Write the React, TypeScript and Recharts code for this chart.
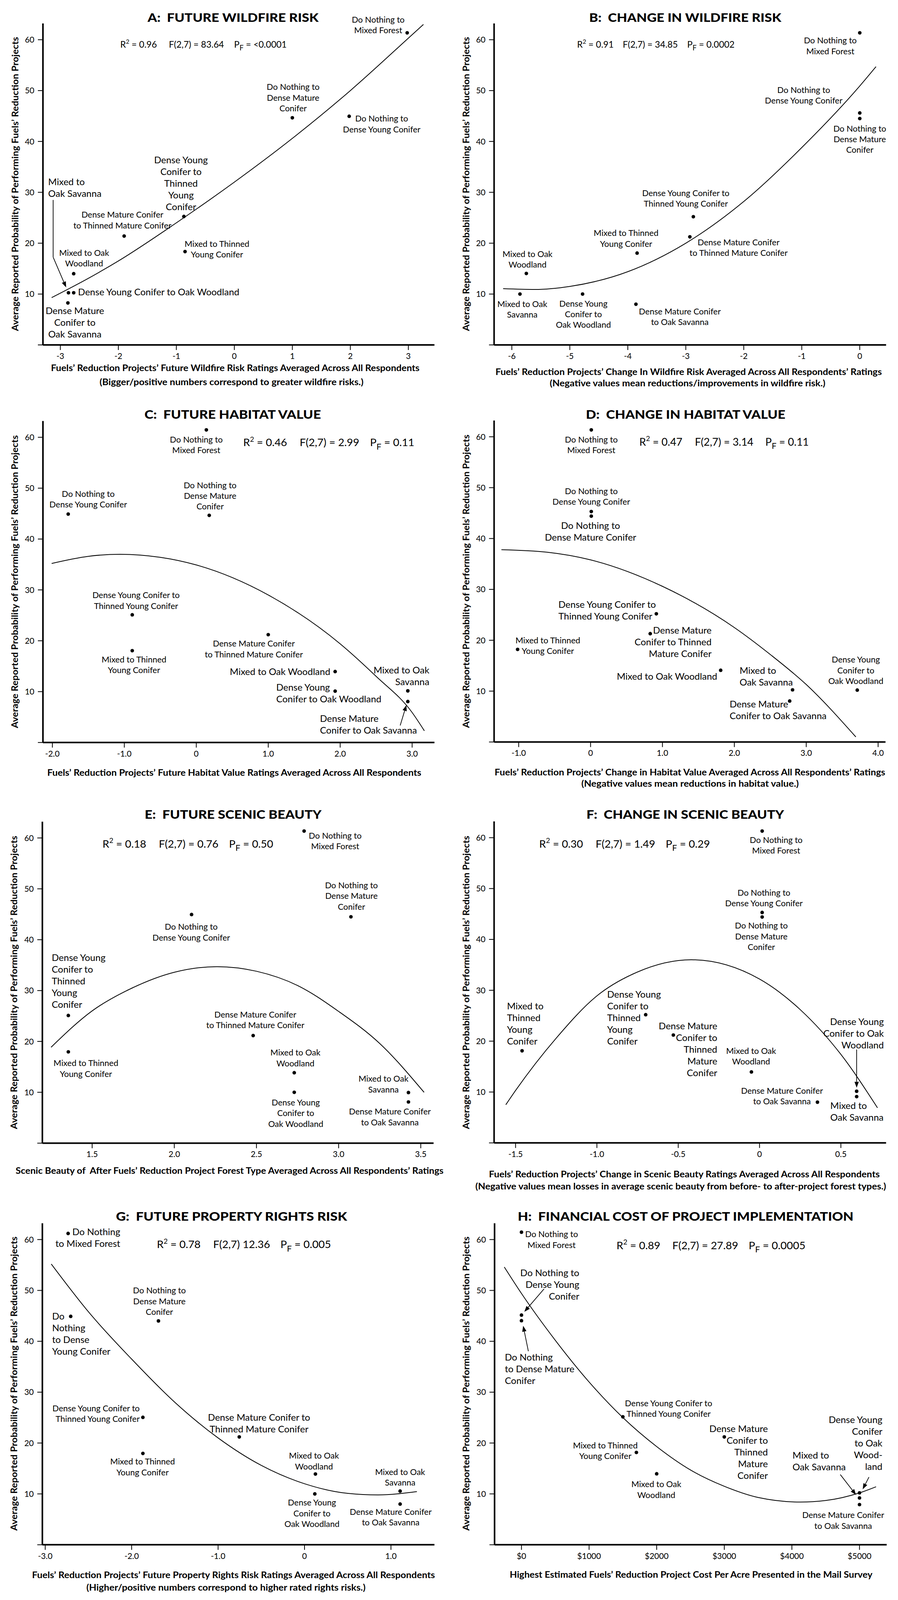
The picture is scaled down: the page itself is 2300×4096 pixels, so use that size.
import React from 'react';
import { ComposedChart, XAxis, YAxis, Scatter, Line, ReferenceLine } from 'recharts';

const FONT = 'Lato, "Open Sans", "DejaVu Sans", sans-serif';

const projects = [
  'Do Nothing to Mixed Forest',
  'Do Nothing to Dense Mature Conifer',
  'Do Nothing to Dense Young Conifer',
  'Dense Young Conifer to Thinned Young Conifer',
  'Dense Mature Conifer to Thinned Mature Conifer',
  'Mixed to Thinned Young Conifer',
  'Mixed to Oak Woodland',
  'Mixed to Oak Savanna',
  'Dense Young Conifer to Oak Woodland',
  'Dense Mature Conifer to Oak Savanna',
];

const yTicks = [0, 10, 20, 30, 40, 50, 60];
const yTickLabels = ['', '10', '20', '30', '40', '50', '60'];
const yLabel = 'Average Reported Probability of Performing Fuels\u2019 Reduction Projects';

// A: Future wildfire risk
const aX = [2.98, 1.0, 1.98, -0.87, -1.9, -0.85, -2.77, -2.86, -2.77, -2.87];
const aY = [61.35, 44.65, 44.95, 25.25, 21.4, 18.35, 14.0, 10.25, 10.25, 8.25];
const aCurveX = [-3.15, -2.5, -2, -1, 0, 1, 2, 3, 3.26];
const aCurveY = [9.3, 13.2, 16.5, 24, 32, 40.6, 50, 60.3, 63];
const aTicks = [-3, -2, -1, 0, 1, 2, 3];
const aTickLabels = ['-3', '-2', '-1', '0', '1', '2', '3'];

// B: Change in wildfire risk
const bX = [0, 0, 0, -2.87, -2.93, -3.84, -5.75, -5.86, -4.78, -3.86];
const bY = [61.35, 44.5, 45.6, 25.2, 21.25, 18.05, 14.05, 10.0, 10.0, 8.0];
const bCurveX = [-6.15, -5.6, -5, -4, -3, -2, -1, 0, 0.28];
const bCurveY = [11.05, 10.9, 11.5, 14.4, 20, 28.2, 38.8, 50.9, 54.7];
const bTicks = [-6, -5, -4, -3, -2, -1, 0];
const bTickLabels = ['-6', '-5', '-4', '-3', '-2', '-1', '0'];

// C: Future habitat value
const cX = [0.14, 0.18, -1.78, -0.89, 1.0, -0.89, 1.93, 2.94, 1.93, 2.94];
const cY = [61.45, 44.65, 44.9, 25.1, 21.2, 18.05, 13.95, 10.15, 10.1, 8.05];
const cCurveX = [-2.01, -1.5, -1.06, -0.5, 0, 1, 2, 2.5, 3, 3.17];
const cCurveY = [35.2, 36.6, 37.0, 36.4, 34.9, 29, 19.4, 13, 5.9, 2.3];
const cTicks = [-2, -1, 0, 1, 2, 3];
const cTickLabels = ['-2.0', '-1.0', '0', '1.0', '2.0', '3.0'];

// D: Change in habitat value
const dX = [0.01, 0.01, 0.01, 0.915, 0.83, -1.015, 1.81, 2.81, 3.71, 2.77];
const dY = [61.35, 44.4, 45.3, 25.2, 21.3, 18.2, 14.1, 10.25, 10.2, 8.05];
const dCurveX = [-1.24, -0.6, 0, 1, 2, 2.5, 3, 3.69];
const dCurveY = [37.8, 37.3, 35.8, 30.6, 22.5, 17.2, 11.3, 1.0];
const dTicks = [-1, 0, 1, 2, 3, 4];
const dTickLabels = ['-1.0', '0', '1.0', '2.0', '3.0', '4.0'];

// E: Future scenic beauty
const eX = [2.79, 3.075, 2.105, 1.355, 2.48, 1.355, 2.73, 3.425, 2.73, 3.425];
const eY = [61.35, 44.5, 44.95, 25.1, 21.15, 17.95, 13.85, 9.95, 10.0, 8.1];
const eCurveX = [1.25, 1.5, 1.75, 2.0, 2.26, 2.5, 2.75, 3.0, 3.25, 3.52];
const eCurveY = [18.85, 26, 30.6, 33.6, 34.7, 33.8, 31, 25.9, 19.6, 10.0];
const eTicks = [1.5, 2, 2.5, 3, 3.5];
const eTickLabels = ['1.5', '2.0', '2.5', '3.0', '3.5'];

// F: Change in scenic beauty
const fX = [0.016, 0.016, 0.016, -0.7, -0.53, -1.46, -0.05, 0.597, 0.597, 0.356];
const fY = [61.3, 44.4, 45.3, 25.2, 21.2, 18.1, 13.95, 9.1, 10.15, 8.0];
const fCurveX = [-1.56, -1.5, -1.25, -1.0, -0.75, -0.42, 0, 0.25, 0.5, 0.725];
const fCurveY = [7.5, 10.3, 20.6, 28.9, 33.6, 36.0, 32.2, 26.2, 17.4, 6.9];
const fTicks = [-1.5, -1, -0.5, 0, 0.5];
const fTickLabels = ['-1.5', '-1.0', '-0.5', '0', '0.5'];

// G: Future property rights risk
const gX = [-2.735, -1.69, -2.705, -1.87, -0.755, -1.87, 0.126, 1.106, 0.119, 1.106];
const gY = [61.2, 44.0, 44.9, 25.05, 21.2, 17.95, 13.9, 10.55, 10.0, 8.0];
const gCurveX = [-2.93, -2.5, -2.0, -1.5, -1.0, -0.5, 0, 0.5, 0.85, 1.3];
const gCurveY = [55.2, 45.8, 36.5, 28.0, 21.0, 15.6, 12.0, 10.1, 9.8, 10.45];
const gTicks = [-3, -2, -1, 0, 1];
const gTickLabels = ['-3.0', '-2.0', '-1.0', '0', '1.0'];

// H: Financial cost
const hX = [0, 0, 0, 1500, 3000, 1700, 2000, 5000, 5000, 5000];
const hY = [61.45, 44.05, 45.15, 25.15, 21.2, 18.15, 13.95, 9.2, 10.2, 7.9];
const hCurveX = [-254, 0, 500, 1000, 1500, 2000, 2500, 3000, 3500, 4124, 4500, 5000, 5245];
const hCurveY = [54.6, 49.4, 40.2, 32.0, 25.0, 19.3, 14.7, 11.5, 9.3, 8.4, 8.7, 10.2, 11.4];
const hTicks = [0, 1000, 2000, 3000, 4000, 5000];
const hTickLabels = ['$0', '$1000', '$2000', '$3000', '$4000', '$5000'];

type Lab = { t: string[]; x: number; y: number; a: 'start' | 'middle' | 'end'; s: 'S' | 'B' };
type Arr = { x1: number; y1: number; x2: number; y2: number; head: boolean };

const aLabels: Lab[] = [
  { t: ['Do Nothing to', 'Mixed Forest'], x: 2.48, y: 62.9, a: 'middle', s: 'S' },
  { t: ['Do Nothing to', 'Dense Mature', 'Conifer'], x: 1.013, y: 48.6, a: 'middle', s: 'S' },
  { t: ['Do Nothing to', 'Dense Young Conifer'], x: 2.54, y: 43.45, a: 'middle', s: 'S' },
  { t: ['Dense Young', 'Conifer to', 'Thinned', 'Young', 'Conifer'], x: -0.92, y: 31.75, a: 'middle', s: 'B' },
  { t: ['Dense Mature Conifer', 'to Thinned Mature Conifer'], x: -1.93, y: 24.55, a: 'middle', s: 'S' },
  { t: ['Mixed to Thinned', 'Young Conifer'], x: -0.3, y: 18.85, a: 'middle', s: 'S' },
  { t: ['Mixed to Oak', 'Woodland'], x: -2.59, y: 17.05, a: 'middle', s: 'S' },
  { t: ['Mixed to', 'Oak Savanna'], x: -3.21, y: 30.95, a: 'start', s: 'B' },
  { t: ['Dense Young Conifer to Oak Woodland'], x: -2.695, y: 10.4, a: 'start', s: 'B' },
  { t: ['Dense Mature', 'Conifer to', 'Oak Savanna'], x: -2.75, y: 4.4, a: 'middle', s: 'B' },
];
const bLabels: Lab[] = [
  { t: ['Do Nothing to', 'Mixed Forest'], x: -0.508, y: 58.8, a: 'middle', s: 'S' },
  { t: ['Do Nothing to', 'Dense Young Conifer'], x: -0.967, y: 49.1, a: 'middle', s: 'S' },
  { t: ['Do Nothing to', 'Dense Mature', 'Conifer'], x: 0, y: 40.45, a: 'middle', s: 'S' },
  { t: ['Dense Young Conifer to', 'Thinned Young Conifer'], x: -3.0, y: 28.8, a: 'middle', s: 'S' },
  { t: ['Mixed to Thinned', 'Young Conifer'], x: -4.03, y: 20.95, a: 'middle', s: 'S' },
  { t: ['Dense Mature Conifer', 'to Thinned Mature Conifer'], x: -2.09, y: 19.15, a: 'middle', s: 'S' },
  { t: ['Mixed to Oak', 'Woodland'], x: -5.73, y: 16.85, a: 'middle', s: 'S' },
  { t: ['Mixed to Oak', 'Savanna'], x: -5.82, y: 7.0, a: 'middle', s: 'S' },
  { t: ['Dense Young', 'Conifer to', 'Oak Woodland'], x: -4.766, y: 6.05, a: 'middle', s: 'S' },
  { t: ['Dense Mature Conifer', 'to Oak Savanna'], x: -3.103, y: 5.55, a: 'middle', s: 'S' },
];
const cLabels: Lab[] = [
  { t: ['Do Nothing to', 'Mixed Forest'], x: 0, y: 58.5, a: 'middle', s: 'S' },
  { t: ['Do Nothing to', 'Dense Young Conifer'], x: -1.502, y: 47.85, a: 'middle', s: 'S' },
  { t: ['Do Nothing to', 'Dense Mature', 'Conifer'], x: 0.192, y: 48.5, a: 'middle', s: 'S' },
  { t: ['Dense Young Conifer to', 'Thinned Young Conifer'], x: -0.837, y: 27.93, a: 'middle', s: 'S' },
  { t: ['Mixed to Thinned', 'Young Conifer'], x: -0.866, y: 15.3, a: 'middle', s: 'S' },
  { t: ['Dense Mature Conifer', 'to Thinned Mature Conifer'], x: 0.8, y: 18.4, a: 'middle', s: 'S' },
  { t: ['Mixed to Oak Woodland'], x: 1.862, y: 13.96, a: 'end', s: 'B' },
  { t: ['Dense Young', 'Conifer to Oak Woodland'], x: 1.111, y: 9.71, a: 'start', s: 'B' },
  { t: ['Mixed to Oak', 'Savanna'], x: 3.239, y: 13.11, a: 'end', s: 'B' },
  { t: ['Dense Mature', 'Conifer to Oak Savanna'], x: 1.719, y: 3.6, a: 'start', s: 'B' },
];
const dLabels: Lab[] = [
  { t: ['Do Nothing to', 'Mixed Forest'], x: 0.01, y: 58.4, a: 'middle', s: 'S' },
  { t: ['Do Nothing to', 'Dense Young Conifer'], x: 0.01, y: 48.3, a: 'middle', s: 'S' },
  { t: ['Do Nothing to', 'Dense Mature Conifer'], x: 0.0, y: 41.4, a: 'middle', s: 'B' },
  { t: ['Dense Young Conifer to', 'Thinned Young Conifer'], x: -0.447, y: 25.9, a: 'start', s: 'B' },
  { t: ['Dense Mature', 'Conifer to Thinned', 'Mature Conifer'], x: 1.683, y: 19.65, a: 'end', s: 'B' },
  { t: ['Mixed to Thinned', 'Young Conifer'], x: -0.594, y: 18.95, a: 'middle', s: 'S' },
  { t: ['Mixed to Oak Woodland'], x: 1.762, y: 12.95, a: 'end', s: 'B' },
  { t: ['Mixed to', 'Oak Savanna'], x: 2.073, y: 12.95, a: 'start', s: 'B' },
  { t: ['Dense Mature', 'Conifer to Oak Savanna'], x: 1.934, y: 6.3, a: 'start', s: 'B' },
  { t: ['Dense Young', 'Conifer to', 'Oak Woodland'], x: 3.69, y: 14.1, a: 'middle', s: 'S' },
];
const eLabels: Lab[] = [
  { t: ['Do Nothing to', 'Mixed Forest'], x: 2.979, y: 59.4, a: 'middle', s: 'S' },
  { t: ['Do Nothing to', 'Dense Young Conifer'], x: 2.103, y: 41.5, a: 'middle', s: 'S' },
  { t: ['Do Nothing to', 'Dense Mature', 'Conifer'], x: 3.078, y: 48.6, a: 'middle', s: 'S' },
  { t: ['Dense Young', 'Conifer to', 'Thinned', 'Young', 'Conifer'], x: 1.254, y: 31.85, a: 'start', s: 'B' },
  { t: ['Mixed to Thinned', 'Young Conifer'], x: 1.462, y: 14.7, a: 'middle', s: 'S' },
  { t: ['Dense Mature Conifer', 'to Thinned Mature Conifer'], x: 2.493, y: 24.25, a: 'middle', s: 'S' },
  { t: ['Mixed to Oak', 'Woodland'], x: 2.737, y: 16.75, a: 'middle', s: 'S' },
  { t: ['Dense Young', 'Conifer to', 'Oak Woodland'], x: 2.739, y: 5.9, a: 'middle', s: 'S' },
  { t: ['Mixed to Oak', 'Savanna'], x: 3.273, y: 11.6, a: 'middle', s: 'S' },
  { t: ['Dense Mature Conifer', 'to Oak Savanna'], x: 3.312, y: 5.15, a: 'middle', s: 'S' },
];
const fLabels: Lab[] = [
  { t: ['Do Nothing to', 'Mixed Forest'], x: 0.102, y: 58.5, a: 'middle', s: 'S' },
  { t: ['Do Nothing to', 'Dense Young Conifer'], x: 0.027, y: 48.15, a: 'middle', s: 'S' },
  { t: ['Do Nothing to', 'Dense Mature', 'Conifer'], x: 0.011, y: 40.6, a: 'middle', s: 'S' },
  { t: ['Mixed to', 'Thinned', 'Young', 'Conifer'], x: -1.553, y: 23.45, a: 'start', s: 'B' },
  { t: ['Dense Young', 'Conifer to', 'Thinned', 'Young', 'Conifer'], x: -0.937, y: 24.6, a: 'start', s: 'B' },
  { t: ['Dense Mature', 'Conifer to', 'Thinned', 'Mature', 'Conifer'], x: -0.26, y: 18.4, a: 'end', s: 'B' },
  { t: ['Mixed to Oak', 'Woodland'], x: -0.052, y: 17.05, a: 'middle', s: 'S' },
  { t: ['Dense Mature Conifer', 'to Oak Savanna'], x: 0.138, y: 9.2, a: 'middle', s: 'S' },
  { t: ['Dense Young', 'Conifer to Oak', 'Woodland'], x: 0.764, y: 21.5, a: 'end', s: 'B' },
  { t: ['Mixed to', 'Oak Savanna'], x: 0.435, y: 6.2, a: 'start', s: 'B' },
];
const gLabels: Lab[] = [
  { t: ['Do Nothing', 'to Mixed Forest'], x: -2.132, y: 60.4, a: 'end', s: 'B' },
  { t: ['Do', 'Nothing', 'to Dense', 'Young Conifer'], x: -2.92, y: 41.45, a: 'start', s: 'B' },
  { t: ['Do Nothing to', 'Dense Mature', 'Conifer'], x: -1.679, y: 47.9, a: 'middle', s: 'S' },
  { t: ['Dense Young Conifer to', 'Thinned Young Conifer'], x: -1.907, y: 25.8, a: 'end', s: 'S' },
  { t: ['Mixed to Thinned', 'Young Conifer'], x: -1.874, y: 15.3, a: 'middle', s: 'S' },
  { t: ['Dense Mature Conifer to', 'Thinned Mature Conifer'], x: -0.526, y: 23.9, a: 'middle', s: 'B' },
  { t: ['Mixed to Oak', 'Woodland'], x: 0.109, y: 16.45, a: 'middle', s: 'S' },
  { t: ['Dense Young', 'Conifer to', 'Oak Woodland'], x: 0.086, y: 6.2, a: 'middle', s: 'S' },
  { t: ['Mixed to Oak', 'Savanna'], x: 1.106, y: 13.25, a: 'middle', s: 'S' },
  { t: ['Dense Mature Conifer', 'to Oak Savanna'], x: 0.997, y: 5.45, a: 'middle', s: 'S' },
];
const hLabels: Lab[] = [
  { t: ['Do Nothing to', 'Mixed Forest'], x: 445, y: 60.0, a: 'middle', s: 'S' },
  { t: ['Do Nothing to', 'Dense Young', 'Conifer'], x: 855, y: 51.2, a: 'end', s: 'B' },
  { t: ['Do Nothing', 'to Dense Mature', 'Conifer'], x: -246, y: 34.55, a: 'start', s: 'B' },
  { t: ['Dense Young Conifer to', 'Thinned Young Conifer'], x: 2176, y: 26.8, a: 'middle', s: 'S' },
  { t: ['Mixed to Thinned', 'Young Conifer'], x: 1240, y: 18.5, a: 'middle', s: 'S' },
  { t: ['Mixed to Oak', 'Woodland'], x: 1994, y: 10.85, a: 'middle', s: 'S' },
  { t: ['Dense Mature', 'Conifer to', 'Thinned', 'Mature', 'Conifer'], x: 3645, y: 18.2, a: 'end', s: 'B' },
  { t: ['Mixed to', 'Oak Savanna'], x: 4009, y: 16.45, a: 'start', s: 'B' },
  { t: ['Dense Young', 'Conifer', 'to Oak', 'Wood-', 'land'], x: 5339, y: 20.0, a: 'end', s: 'B' },
  { t: ['Dense Mature Conifer', 'to Oak Savanna'], x: 4759, y: 4.8, a: 'middle', s: 'S' },
];

const aArrows: Arr[] = [
  { x1: -3.124, y1: 28.5, x2: -3.124, y2: 17.25, head: false },
  { x1: -3.124, y1: 17.25, x2: -2.9, y2: 11.3, head: true },
];
const cArrows: Arr[] = [{ x1: 2.834, y1: 3.35, x2: 2.92, y2: 7.36, head: true }];
const fArrows: Arr[] = [{ x1: 0.597, y1: 18.35, x2: 0.597, y2: 10.85, head: true }];
const hArrows: Arr[] = [
  { x1: 334, y1: 50.3, x2: 42, y2: 45.8, head: true },
  { x1: 102, y1: 38.05, x2: 25, y2: 43.05, head: true },
  { x1: 4716, y1: 13.8, x2: 4949, y2: 9.8, head: true },
  { x1: 5140, y1: 13.3, x2: 5047, y2: 10.9, head: true },
];

type Panel = {
  id: string; col: number; row: number;
  title: string; titleCx: number; titleY: number; titleLen: number;
  r2: string; fStr: string; pStr: string; statsX: number[]; statsY: number; statsFs: number;
  xLabel: string[]; xLabelCx: number[]; xLabelLen: number[]; xLabelY: number[];
  yLabelCx: number; yLabelCy: number; yLabelLen: number;
  L: number; R: number; Bt: number;
  domain: [number, number]; ticks: number[]; tickLabels: string[];
  x: number[]; y: number[]; curveX: number[]; curveY: number[];
  labels: Lab[]; arrows: Arr[];
};

const panels: Panel[] = [
  {
    id: 'A', col: 0, row: 0, title: 'A:\u00A0 FUTURE WILDFIRE RISK', titleCx: 597, titleY: 55.5, titleLen: 438,
    r2: '0.96', fStr: '= 83.64', pStr: '<0.0001', statsX: [308, 432.5, 599.6], statsY: 122, statsFs: 23,
    xLabel: ['Fuels\u2019 Reduction Projects\u2019 Future Wildfire Risk Ratings Averaged Across All Respondents', '(Bigger/positive numbers correspond to greater wildfire risks.)'],
    xLabelCx: [602.5, 593], xLabelLen: [944, 676], xLabelY: [950, 986],
    yLabelCx: 38, yLabelCy: 471, yLabelLen: 753,
    L: 110, R: 1112.7, Bt: 883, domain: [-3.3, 3.45], ticks: aTicks, tickLabels: aTickLabels,
    x: aX, y: aY, curveX: aCurveX, curveY: aCurveY, labels: aLabels, arrows: aArrows,
  },
  {
    id: 'B', col: 1, row: 0, title: 'B:\u00A0 CHANGE IN WILDFIRE RISK', titleCx: 607, titleY: 55.5, titleLen: 492,
    r2: '0.91', fStr: '= 34.85', pStr: '0.0002', statsX: [330, 447, 612], statsY: 122, statsFs: 23,
    xLabel: ['Fuels\u2019 Reduction Projects\u2019 Change In Wildfire Risk Averaged Across All Respondents\u2019 Ratings', '(Negative values mean reductions/improvements in wildfire risk.)'],
    xLabelCx: [615.8, 613], xLabelLen: [989.6, 706], xLabelY: [959.5, 989],
    yLabelCx: 45.4, yLabelCy: 471, yLabelLen: 753,
    L: 117.5, R: 1121.5, Bt: 883, domain: [-6.306, 0.454], ticks: bTicks, tickLabels: bTickLabels,
    x: bX, y: bY, curveX: bCurveX, curveY: bCurveY, labels: bLabels, arrows: [],
  },
  {
    id: 'C', col: 0, row: 1, title: 'C:\u00A0 FUTURE HABITAT VALUE', titleCx: 596, titleY: 48.8, titleLen: 452,
    r2: '0.46', fStr: '= 2.99', pStr: '0.11', statsX: [623, 767.5, 947.8], statsY: 119.4, statsFs: 27.5,
    xLabel: ['Fuels\u2019 Reduction Projects\u2019 Future Habitat Value Ratings Averaged Across All Respondents'],
    xLabelCx: [600], xLabelLen: [958], xLabelY: [962.5],
    yLabelCx: 36.6, yLabelCy: 466, yLabelLen: 750,
    L: 110, R: 1112.7, Bt: 877.8, domain: [-2.131, 3.31], ticks: cTicks, tickLabels: cTickLabels,
    x: cX, y: cY, curveX: cCurveX, curveY: cCurveY, labels: cLabels, arrows: cArrows,
  },
  {
    id: 'D', col: 1, row: 1, title: 'D:\u00A0 CHANGE IN HABITAT VALUE', titleCx: 608, titleY: 48.8, titleLen: 511,
    r2: '0.47', fStr: '= 3.14', pStr: '0.11', statsX: [489.6, 631.8, 812.2], statsY: 117.5, statsFs: 27,
    xLabel: ['Fuels\u2019 Reduction Projects\u2019 Change in Habitat Value Averaged Across All Respondents\u2019 Ratings', '(Negative values mean reductions in habitat value.)'],
    xLabelCx: [619, 619.4], xLabelLen: [1000.5, 557], xLabelY: [962, 991],
    yLabelCx: 45.4, yLabelCy: 465, yLabelLen: 751,
    L: 117.5, R: 1120, Bt: 876.5, domain: [-1.342, 4.103], ticks: dTicks, tickLabels: dTickLabels,
    x: dX, y: dY, curveX: dCurveX, curveY: dCurveY, labels: dLabels, arrows: [],
  },
  {
    id: 'E', col: 0, row: 2, title: 'E:\u00A0 FUTURE SCENIC BEAUTY', titleCx: 597, titleY: 51.4, titleLen: 453,
    r2: '0.18', fStr: '= 0.76', pStr: '0.50', statsX: [262.4, 406.8, 586.4], statsY: 124.7, statsFs: 27.5,
    xLabel: ['Scenic Beauty of\u00A0 After Fuels\u2019 Reduction Project Forest Type Averaged Across All Respondents\u2019 Ratings'],
    xLabelCx: [588], xLabelLen: [1096], xLabelY: [959.5],
    yLabelCx: 35, yLabelCy: 470, yLabelLen: 751,
    L: 108.5, R: 1110.5, Bt: 881.5, domain: [1.197, 3.578], ticks: eTicks, tickLabels: eTickLabels,
    x: eX, y: eY, curveX: eCurveX, curveY: eCurveY, labels: eLabels, arrows: [],
  },
  {
    id: 'F', col: 1, row: 2, title: 'F:\u00A0 CHANGE IN SCENIC BEAUTY', titleCx: 607, titleY: 51.4, titleLen: 506,
    r2: '0.30', fStr: '= 1.49', pStr: '0.29', statsX: [233.1, 377.5, 557], statsY: 124.7, statsFs: 27.5,
    xLabel: ['Fuels\u2019 Reduction Projects\u2019 Change in Scenic Beauty Ratings Averaged Across All Respondents', '(Negative values mean losses in average scenic beauty from before- to after-project forest types.)'],
    xLabelCx: [604.7, 595.6], xLabelLen: [1001, 1052], xLabelY: [969, 1000],
    yLabelCx: 45.4, yLabelCy: 470, yLabelLen: 751,
    L: 117.5, R: 1121.5, Bt: 880.8, domain: [-1.632, 0.778], ticks: fTicks, tickLabels: fTickLabels,
    x: fX, y: fY, curveX: fCurveX, curveY: fCurveY, labels: fLabels, arrows: fArrows,
  },
  {
    id: 'G', col: 0, row: 3, title: 'G:\u00A0 FUTURE PROPERTY RIGHTS RISK', titleCx: 593, titleY: 56.6, titleLen: 592,
    r2: '0.78', fStr: '12.36', pStr: '0.005', statsX: [401.7, 546, 718.3], statsY: 127.3, statsFs: 27.5,
    xLabel: ['Fuels\u2019 Reduction Projects\u2019 Future Property Rights Risk Ratings Averaged Across All Respondents', '(Higher/positive numbers correspond to higher rated rights risks.)'],
    xLabelCx: [598, 578.7], xLabelLen: [1032, 715], xLabelY: [972, 1004],
    yLabelCx: 35, yLabelCy: 474, yLabelLen: 753,
    L: 108.5, R: 1112.7, Bt: 886.6, domain: [-3.033, 1.503], ticks: gTicks, tickLabels: gTickLabels,
    x: gX, y: gY, curveX: gCurveX, curveY: gCurveY, labels: gLabels, arrows: [],
  },
  {
    id: 'H', col: 1, row: 3, title: 'H:\u00A0 FINANCIAL COST OF PROJECT IMPLEMENTATION', titleCx: 608, titleY: 56.6, titleLen: 860,
    r2: '0.89', fStr: '= 27.89', pStr: '0.0005', statsX: [431, 574, 769.6], statsY: 129.9, statsFs: 27.5,
    xLabel: ['Highest Estimated Fuels\u2019 Reduction Project Cost Per Acre Presented in the Mail Survey'],
    xLabelCx: [622], xLabelLen: [929], xLabelY: [971],
    yLabelCx: 45.4, yLabelCy: 474, yLabelLen: 753,
    L: 118.7, R: 1123, Bt: 886.6, domain: [-398, 5402], ticks: hTicks, tickLabels: hTickLabels,
    x: hX, y: hY, curveX: hCurveX, curveY: hCurveY, labels: hLabels, arrows: hArrows,
  },
];

const PW = 1148;
const PH = 1023;
const COLW = 1148.3;
const ROWH = 1022.6;
const YTOP = 63.2;
const PLOT_H = 823;

const DotShape = (p: any) => <circle cx={p.cx} cy={p.cy} r={4.6} fill="#000" />;

const LabelShape = (p: any) => {
  const lab: Lab = p.payload;
  if (!lab || !lab.t) return <g />;
  const fs = lab.s === 'B' ? 24 : 21.5;
  const lh = lab.s === 'B' ? 30 : 27.4;
  const n = lab.t.length;
  return (
    <text textAnchor={lab.a} fontSize={fs} fontFamily={FONT} fill="#000">
      {lab.t.map((line, i) => (
        <tspan key={i} x={p.cx} y={p.cy + (i - (n - 1) / 2) * lh + 0.36 * fs}>{line}</tspan>
      ))}
    </text>
  );
};

const arrowShape = (head: boolean) => (p: any) => {
  const { x1, y1, x2, y2 } = p;
  const ang = Math.atan2(y2 - y1, x2 - x1);
  const hl = 15;
  const hw = 5.5;
  const bx = x2 - hl * Math.cos(ang);
  const by = y2 - hl * Math.sin(ang);
  const pts = `${x2},${y2} ${bx + hw * Math.sin(ang)},${by - hw * Math.cos(ang)} ${bx - hw * Math.sin(ang)},${by + hw * Math.cos(ang)}`;
  return (
    <g>
      <line x1={x1} y1={y1} x2={head ? bx : x2} y2={head ? by : y2} stroke="#000" strokeWidth={1.8} />
      {head ? <polygon points={pts} fill="#000" /> : null}
    </g>
  );
};

function Stats({ p }: { p: Panel }) {
  const fs = p.statsFs;
  const common = { fontSize: fs, fontFamily: FONT, fill: '#000' } as any;
  return (
    <g>
      <text x={p.statsX[0]} y={p.statsY} {...common}>
        R<tspan dy={-0.42 * fs} fontSize={0.66 * fs}>2</tspan>
        <tspan dy={0.42 * fs}>{'\u00A0= ' + p.r2}</tspan>
      </text>
      <text x={p.statsX[1]} y={p.statsY} {...common}>{'F(2,7) ' + p.fStr}</text>
      <text x={p.statsX[2]} y={p.statsY} {...common}>
        P<tspan dy={0.3 * fs} fontSize={0.8 * fs}>F</tspan>
        <tspan dy={-0.3 * fs}>{'\u00A0= ' + p.pStr}</tspan>
      </text>
    </g>
  );
}

function PanelView({ p }: { p: Panel }) {
  const yW = 60;
  const xH = 60;
  const top = p.Bt - PLOT_H;
  const margin = { top, left: p.L - yW, right: PW - p.R, bottom: PH - p.Bt - xH };
  const pts = projects.map((name, i) => ({ name, x: p.x[i], y: p.y[i] }));
  const curve = p.curveX.map((x, i) => ({ x, y: p.curveY[i] }));
  const labelData = p.labels.map((l) => ({ ...l }));
  return (
    <div style={{ position: 'absolute', left: p.col * COLW, top: p.row * ROWH, width: PW, height: PH }}>
      <ComposedChart width={PW} height={PH} margin={margin}>
        <XAxis
          type="number"
          dataKey="x"
          domain={p.domain}
          ticks={p.ticks}
          interval={0}
          tickFormatter={(v: number) => p.tickLabels[p.ticks.indexOf(v)] ?? String(v)}
          height={xH}
          axisLine={{ stroke: '#000', strokeWidth: 4 }}
          tickLine={{ stroke: '#000', strokeWidth: 2 }}
          tickSize={13}
          tickMargin={8}
          tick={{ fill: '#000', fontSize: 21, fontFamily: FONT }}
        />
        <YAxis
          type="number"
          dataKey="y"
          domain={[0, YTOP]}
          ticks={yTicks}
          interval={0}
          tickFormatter={(v: number) => yTickLabels[yTicks.indexOf(v)] ?? ''}
          width={yW}
          axisLine={{ stroke: '#000', strokeWidth: 4 }}
          tickLine={{ stroke: '#000', strokeWidth: 2 }}
          tickSize={13}
          tickMargin={9}
          tick={{ fill: '#000', fontSize: 21, fontFamily: FONT }}
        />
        <Line data={curve} dataKey="y" type="monotone" stroke="#000" strokeWidth={2} dot={false} activeDot={false} isAnimationActive={false} />
        <Scatter data={pts} shape={DotShape} isAnimationActive={false} />
        {p.arrows.map((a, i) => (
          <ReferenceLine
            key={i}
            segment={[{ x: a.x1, y: a.y1 }, { x: a.x2, y: a.y2 }]}
            stroke="#000"
            strokeWidth={1.8}
            ifOverflow="visible"
            shape={arrowShape(a.head)}
          />
        ))}
        <Scatter data={labelData} shape={LabelShape} isAnimationActive={false} />
      </ComposedChart>
      <svg width={PW} height={PH} style={{ position: 'absolute', left: 0, top: 0, pointerEvents: 'none' }}>
        <text x={p.titleCx} y={p.titleY} textAnchor="middle" fontSize={31} fontWeight={900} fontFamily={FONT} fill="#000"
          textLength={p.titleLen} lengthAdjust="spacingAndGlyphs">{p.title}</text>
        <Stats p={p} />
        <text transform={`translate(${p.yLabelCx},${p.yLabelCy}) rotate(-90)`} textAnchor="middle" dominantBaseline="central"
          fontSize={23} fontWeight={700} fontFamily={FONT} fill="#000" textLength={p.yLabelLen} lengthAdjust="spacingAndGlyphs">{yLabel}</text>
        {p.xLabel.map((t, i) => (
          <text key={i} x={p.xLabelCx[i]} y={p.xLabelY[i]} textAnchor="middle" fontSize={23} fontWeight={700} fontFamily={FONT} fill="#000"
            textLength={p.xLabelLen[i]} lengthAdjust="spacingAndGlyphs">{t}</text>
        ))}
      </svg>
    </div>
  );
}

export default function App() {
  return (
    <div style={{ position: 'absolute', left: 0, top: 0, width: 2300, height: 4096, background: '#fff', overflow: 'hidden' }}>
      {panels.map((p) => (
        <PanelView key={p.id} p={p} />
      ))}
    </div>
  );
}
